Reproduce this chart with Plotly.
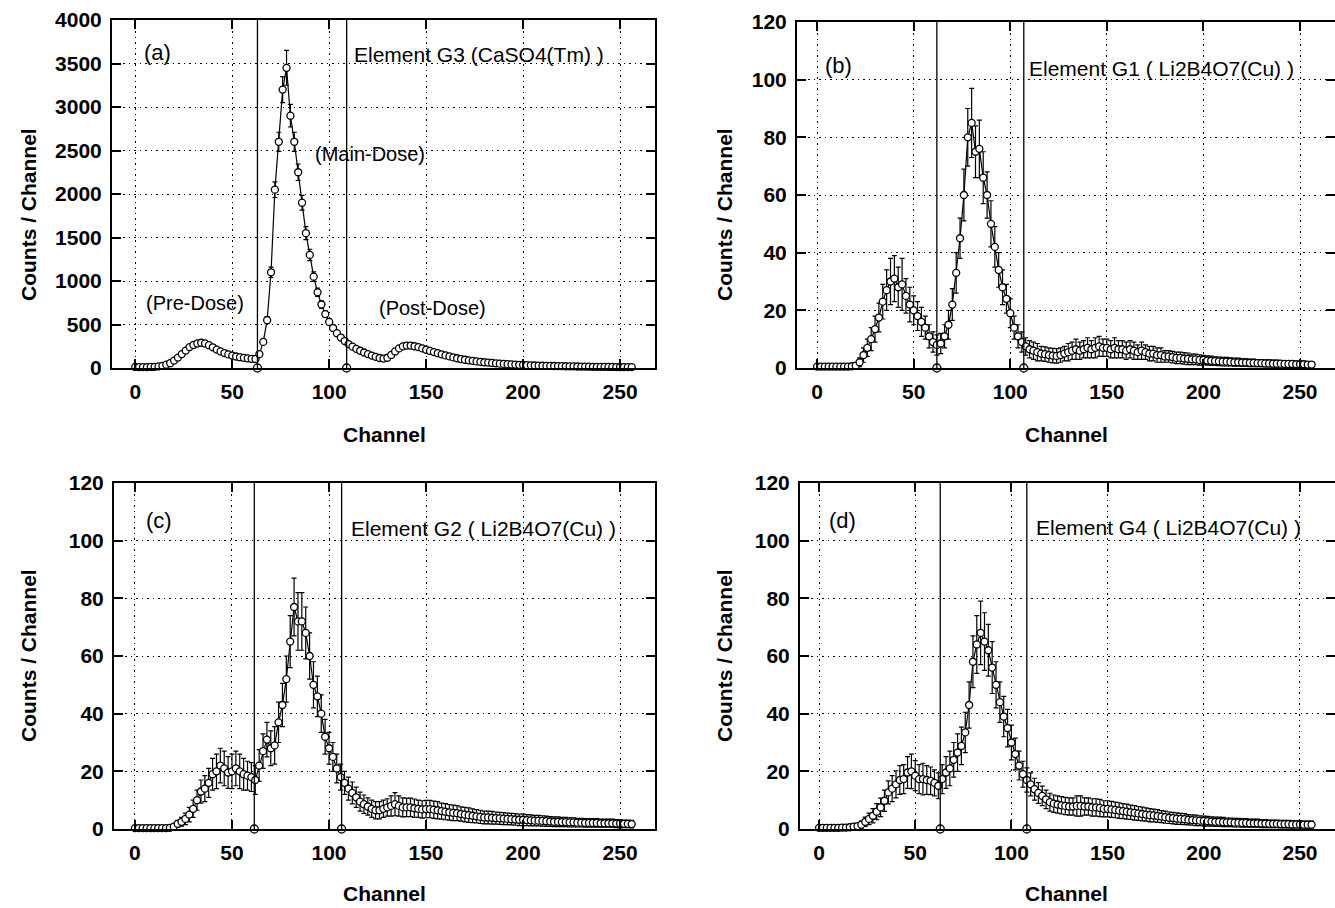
import plotly.graph_objects as go

# ---------------- data ----------------
CHANNELS = list(range(0, 257, 2))          # channel numbers 0..256 (every 2nd)
X_TICKS = [0, 50, 100, 150, 200, 250]
Y_TICKS_A = [0, 500, 1000, 1500, 2000, 2500, 3000, 3500, 4000]
Y_TICKS_LI = [0, 20, 40, 60, 80, 100, 120]

# (a) Element G3 CaSO4(Tm)
A_VALS = [12, 10, 10, 10, 12, 14, 18, 25, 38, 55,
          85, 120, 160, 200, 240, 265, 282, 290, 282, 262,
          238, 212, 190, 172, 156, 143, 132, 124, 117, 111,
          106, 104, 160, 300, 550, 1100, 2050, 2600, 3200, 3450,
          2900, 2600, 2250, 1900, 1550, 1300, 1050, 870, 730, 620,
          530, 460, 400, 350, 310, 275, 245, 220, 198, 178,
          160, 143, 128, 115, 108, 118, 150, 190, 225, 248,
          258, 258, 250, 240, 225, 210, 196, 183, 170, 157,
          145, 133, 122, 112, 103, 95, 88, 82, 76, 71,
          66, 62, 58, 54, 50, 47, 44, 41, 39, 37,
          35, 33, 31, 29, 28, 26, 25, 24, 23, 22,
          21, 20, 19, 18, 17, 16, 16, 15, 14, 14,
          13, 13, 12, 12, 11, 11, 10, 10, 10]
A_ERRS = [6, 6, 6, 6, 6, 6, 7, 8, 10, 12,
          15, 18, 20, 22, 24, 25, 26, 26, 26, 25,
          24, 23, 22, 20, 19, 18, 18, 17, 17, 16,
          16, 16, 20, 28, 40, 60, 90, 110, 150, 200,
          130, 110, 95, 85, 75, 65, 55, 48, 42, 38,
          35, 32, 30, 28, 26, 25, 24, 22, 21, 20,
          19, 18, 17, 16, 16, 17, 19, 21, 23, 24,
          25, 25, 24, 24, 23, 22, 21, 21, 20, 19,
          18, 18, 17, 16, 16, 15, 15, 14, 14, 13,
          13, 12, 12, 12, 11, 11, 10, 10, 10, 9,
          9, 9, 9, 8, 8, 8, 8, 8, 7, 7,
          7, 7, 7, 7, 6, 6, 6, 6, 6, 6,
          6, 6, 6, 6, 5, 5, 5, 5, 5]
A_BOUNDS = [63, 109]

# (b) Element G1 Li2B4O7(Cu)
B_VALS = [0.5, 0.5, 0.5, 0.5, 0.5, 0.5, 0.5, 0.5, 0.5, 0.6,
          0.8, 2, 4.5, 7, 10, 13.5, 17.5, 23, 27, 30,
          31, 28, 29, 25, 22, 20, 18, 16, 14, 11,
          9, 8, 8.5, 11, 15, 22, 33, 45, 60, 80,
          85, 75, 76, 66, 60, 50, 42, 34, 28, 24,
          19, 14, 11, 9, 7.5, 6.5, 6, 5.5, 5, 4.8,
          4.5, 4.3, 4.2, 4.5, 5, 5.5, 6, 6.5, 6, 6.5,
          7, 6.5, 7, 7.5, 7, 7, 6.5, 7, 6.5, 6.5,
          6, 6.5, 6, 5.5, 6, 5.5, 5, 5, 4.5, 4.5,
          4, 4, 3.8, 3.5, 3.5, 3.3, 3.2, 3, 3, 2.8,
          2.8, 2.6, 2.5, 2.4, 2.3, 2.2, 2.2, 2.1, 2, 2,
          1.9, 1.9, 1.8, 1.8, 1.7, 1.7, 1.6, 1.6, 1.5, 1.5,
          1.5, 1.4, 1.4, 1.4, 1.3, 1.3, 1.3, 1.2, 1.2]
B_ERRS = [0.5, 0.5, 0.5, 0.5, 0.5, 0.5, 0.5, 0.5, 0.5, 0.5,
          0.8, 1.5, 2.5, 3, 4, 4.5, 5, 6, 7, 8,
          8, 7, 9, 6, 6, 5, 5, 5, 4, 4,
          3.5, 3.5, 3.5, 4, 5, 5.5, 7, 7, 9, 10,
          12, 9, 10, 9, 8, 8, 7, 6, 6, 5,
          5, 4, 4, 3.5, 3, 3, 3, 3, 2.5, 2.5,
          2.5, 2.5, 2.5, 2.5, 2.5, 3, 3, 3.5, 3, 3,
          3.5, 3, 3.5, 3.5, 3, 3, 3, 3.5, 3, 3,
          3, 3, 3, 2.5, 3, 2.5, 2.5, 2.5, 2.5, 2.5,
          2, 2, 2, 2, 2, 2, 2, 1.8, 1.8, 1.8,
          1.6, 1.6, 1.6, 1.5, 1.5, 1.5, 1.5, 1.4, 1.4, 1.4,
          1.3, 1.3, 1.3, 1.3, 1.2, 1.2, 1.2, 1.2, 1.2, 1.2,
          1.1, 1.1, 1.1, 1.1, 1, 1, 1, 1, 1]
B_BOUNDS = [62, 107]

# (c) Element G2 Li2B4O7(Cu)
C_VALS = [0.3, 0.3, 0.3, 0.3, 0.3, 0.3, 0.3, 0.3, 0.3, 0.4,
          0.8, 1.8, 2.5, 3.5, 5, 7, 10, 13, 14, 16,
          19, 20, 22, 21, 19.6, 20, 21, 20, 19, 18.5,
          18, 17, 22, 27, 31, 28, 29, 37, 43, 52,
          65, 77, 72, 72, 68, 60, 50, 46, 40, 32,
          28, 25, 21, 18, 16, 14, 12.5, 11, 9.5, 8.6,
          7.8, 7, 6.5, 6.5, 7, 7.5, 8, 8.6, 8, 7.5,
          7.5, 7.5, 7.2, 7, 6.8, 6.9, 6.9, 6.7, 6.5, 6.2,
          6, 5.8, 5.6, 5.5, 5.2, 5, 4.8, 4.6, 4.4, 4.2,
          4, 4, 3.9, 3.8, 3.7, 3.6, 3.5, 3.4, 3.3, 3.2,
          3.2, 3.1, 3, 2.9, 2.9, 2.8, 2.7, 2.6, 2.5, 2.5,
          2.4, 2.4, 2.3, 2.3, 2.2, 2.2, 2.1, 2.1, 2.1, 2.1,
          2, 2, 2, 2, 1.9, 1.9, 1.8, 1.8, 1.7]
C_ERRS = [0.4, 0.4, 0.4, 0.4, 0.4, 0.4, 0.4, 0.4, 0.4, 0.4,
          0.8, 1.2, 1.5, 2, 2.5, 3, 3.5, 4, 4.5, 5,
          5.5, 6, 6, 6, 5.5, 6, 6, 6, 5.5, 5,
          5, 5, 5.5, 6, 6, 6, 6.5, 7, 7.5, 8,
          9, 10, 10, 10, 9, 8, 8, 7, 6.5, 6,
          5.5, 5, 5, 4.5, 4, 4, 3.8, 3.5, 3.3, 3.2,
          3, 3, 3, 3, 3, 3, 3.5, 4, 3.5, 3.3,
          3.2, 3.2, 3.2, 3, 3, 3, 3, 3, 3, 2.8,
          2.8, 2.7, 2.7, 2.6, 2.5, 2.5, 2.5, 2.4, 2.3, 2.3,
          2.2, 2.2, 2.2, 2.1, 2.1, 2.1, 2, 2, 2, 2,
          2, 1.9, 1.9, 1.8, 1.8, 1.8, 1.8, 1.7, 1.7, 1.7,
          1.6, 1.6, 1.6, 1.6, 1.5, 1.5, 1.5, 1.5, 1.5, 1.5,
          1.4, 1.4, 1.4, 1.4, 1.4, 1.4, 1.3, 1.3, 1.3]
C_BOUNDS = [61.5, 106.5]

# (d) Element G4 Li2B4O7(Cu)
D_VALS = [0.4, 0.4, 0.4, 0.4, 0.4, 0.4, 0.5, 0.5, 0.6, 0.8,
          1, 1.5, 2.5, 3.5, 4.6, 6, 7.5, 9.8, 12.7, 14,
          15.5, 17, 17.3, 19.6, 20, 18.5, 17.3, 17.3, 17, 16.7,
          16, 15, 17.3, 19.6, 21, 24, 26.5, 28.8, 33.5, 43,
          58, 64, 68, 65, 62, 56, 50, 44, 39, 35,
          30, 26, 22, 19, 17, 15.5, 13.8, 12.5, 11.5, 10.3,
          9.3, 8.8, 8.5, 8.2, 8, 7.8, 7.8, 8, 8, 7.8,
          7.8, 7.5, 7.5, 7.3, 7, 7, 6.8, 6.6, 6.4, 6.2,
          6, 5.8, 5.6, 5.4, 5.2, 5, 4.8, 4.7, 4.5, 4.3,
          4.1, 3.9, 3.8, 3.6, 3.5, 3.4, 3.2, 3.1, 3, 2.9,
          2.8, 2.7, 2.6, 2.5, 2.5, 2.4, 2.3, 2.3, 2.2, 2.2,
          2.1, 2.1, 2, 2, 2, 1.9, 1.9, 1.8, 1.8, 1.8,
          1.7, 1.7, 1.7, 1.6, 1.6, 1.6, 1.5, 1.5, 1.5]
D_ERRS = [0.4, 0.4, 0.4, 0.4, 0.4, 0.4, 0.5, 0.5, 0.6, 0.8,
          1, 1.2, 1.6, 2, 2.5, 2.8, 3.2, 3.7, 4, 4.5,
          4.7, 5, 5, 5.5, 6, 5.2, 5, 5.5, 5, 4.8,
          4.5, 4.5, 5, 5.5, 6, 6, 6.5, 6.5, 7, 8,
          9, 10, 11, 10, 9, 9, 8, 7, 7, 6.5,
          6, 5.5, 5, 4.5, 4.2, 4, 3.8, 3.6, 3.4, 3.2,
          3.1, 3, 3, 3, 3, 3, 3, 3.5, 3.5, 3,
          3, 3, 3, 3, 2.8, 2.8, 2.8, 2.7, 2.7, 2.6,
          2.6, 2.5, 2.5, 2.4, 2.4, 2.3, 2.3, 2.2, 2.2, 2.1,
          2.1, 2, 2, 2, 1.9, 1.9, 1.8, 1.8, 1.8, 1.7,
          1.7, 1.7, 1.6, 1.6, 1.6, 1.6, 1.5, 1.5, 1.5, 1.5,
          1.5, 1.5, 1.4, 1.4, 1.4, 1.4, 1.4, 1.3, 1.3, 1.3,
          1.3, 1.3, 1.3, 1.3, 1.2, 1.2, 1.2, 1.2, 1.2]
D_BOUNDS = [63, 108]

LABELS = ["(a)", "(b)", "(c)", "(d)"]
TITLES = ["Element G3 (CaSO4(Tm) )", "Element G1 ( Li2B4O7(Cu) )",
          "Element G2 ( Li2B4O7(Cu) )", "Element G4 ( Li2B4O7(Cu) )"]
REGION_LABELS = ["(Pre-Dose)", "(Main-Dose)", "(Post-Dose)"]
X_TITLE = "Channel"
Y_TITLE = "Counts / Channel"

# ---------------- layout helpers ----------------
W, H = 1335, 908
FONT = "Liberation Sans, Arial, sans-serif"


def px(x):
    return x / W


def py(y):
    return 1 - y / H


panels = [
    dict(n="", vals=A_VALS, errs=A_ERRS, bounds=A_BOUNDS, xdom=(112, 655), ydom=(20, 368),
         xr=(-12, 268), yr=(0, 4000), yt=Y_TICKS_A),
    dict(n="2", vals=B_VALS, errs=B_ERRS, bounds=B_BOUNDS, xdom=(797, 1335), ydom=(22, 368),
         xr=(-10.4, 268.1), yr=(0, 120), yt=Y_TICKS_LI),
    dict(n="3", vals=C_VALS, errs=C_ERRS, bounds=C_BOUNDS, xdom=(114, 655), ydom=(483, 829),
         xr=(-10.8, 268), yr=(0, 120), yt=Y_TICKS_LI),
    dict(n="4", vals=D_VALS, errs=D_ERRS, bounds=D_BOUNDS, xdom=(800, 1335), ydom=(483, 829),
         xr=(-9.9, 268.2), yr=(0, 120), yt=Y_TICKS_LI),
]

fig = go.Figure()
shapes = []
layout_axes = {}

for p in panels:
    xa, ya = "x" + p["n"], "y" + p["n"]
    fig.add_trace(go.Scatter(
        x=CHANNELS, y=p["vals"], mode="lines+markers",
        xaxis=xa, yaxis=ya, showlegend=False, cliponaxis=False,
        line=dict(color="black", width=1.2),
        marker=dict(symbol="circle", size=7, color="white",
                    line=dict(color="black", width=1.3)),
        error_y=dict(type="data", array=p["errs"], visible=True,
                     color="black", thickness=1.2, width=2.5),
    ))
    fig.add_trace(go.Scatter(
        x=p["bounds"], y=[0] * len(p["bounds"]), mode="markers",
        xaxis=xa, yaxis=ya, showlegend=False, cliponaxis=False,
        marker=dict(symbol="circle", size=8, color="white",
                    line=dict(color="black", width=1.3)),
    ))
    for b in p["bounds"]:
        shapes.append(dict(type="line", xref=xa, yref=ya + " domain",
                           x0=b, x1=b, y0=0, y1=1,
                           line=dict(color="black", width=1.3), layer="above"))

    common = dict(showgrid=True, gridcolor="black", gridwidth=1, griddash="1.5px,4px",
                  showline=True, linecolor="black", linewidth=2, mirror="ticks",
                  ticks="inside", ticklen=9, tickwidth=2, tickcolor="black",
                  tickfont=dict(family=FONT, size=21, color="black", weight="bold"),
                  zeroline=False, fixedrange=True, automargin=False)
    layout_axes["xaxis" + p["n"]] = dict(
        common, domain=[px(p["xdom"][0]), px(p["xdom"][1])], range=list(p["xr"]),
        anchor=ya, tickmode="array", tickvals=X_TICKS, ticklabelstandoff=4)
    layout_axes["yaxis" + p["n"]] = dict(
        common, domain=[py(p["ydom"][1]), py(p["ydom"][0])], range=list(p["yr"]),
        anchor=xa, tickmode="array", tickvals=p["yt"], ticklabelstandoff=4)

ann = []


def text(x, y, s, size=21, anchor="left", angle=0, weight="normal"):
    ann.append(dict(x=px(x), y=py(y), xref="paper", yref="paper", text=s,
                    showarrow=False, xanchor=anchor, yanchor="middle",
                    textangle=angle,
                    font=dict(family=FONT, size=size, color="black", weight=weight)))


# panel labels and titles
for (lx, ly), lab in zip([(142, 53), (823, 65), (144, 520), (827, 520)], LABELS):
    text(lx, ly, lab, size=22)
for (tx, ty), t in zip([(352, 55), (1027, 68), (349, 528), (1034, 527)], TITLES):
    text(tx, ty, t, size=21)
# region labels (panel a)
for (rx, ry), r in zip([(144, 303), (313, 154), (377, 308)], REGION_LABELS):
    text(rx, ry, r, size=20)
# axis titles
for (ax, ay) in [(384, 434), (1066, 434), (384, 893), (1066, 893)]:
    text(ax, ay, X_TITLE, anchor="center", weight="bold")
for (ax, ay) in [(28, 215), (724, 215), (28, 656), (724, 656)]:
    text(ax, ay, Y_TITLE, anchor="center", angle=-90, weight="bold")

fig.update_layout(
    width=W, height=H, margin=dict(l=0, r=0, t=0, b=0, autoexpand=False),
    paper_bgcolor="white", plot_bgcolor="white",
    shapes=shapes, annotations=ann, showlegend=False,
    **layout_axes,
)

fig.write_html("out.html")
